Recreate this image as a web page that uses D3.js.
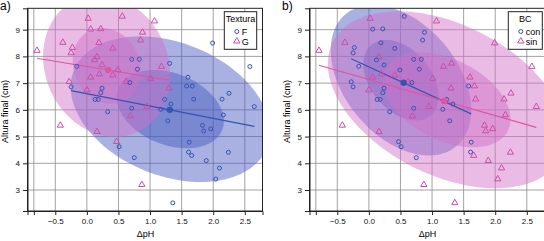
<!DOCTYPE html>
<html>
<head>
<meta charset="utf-8">
<script src="https://cdn.jsdelivr.net/npm/d3@7"></script>
<style>
body { margin: 0; background: #fff; }
text { font-family: "Liberation Sans", Arial, sans-serif; }
</style>
</head>
<body>
<svg id="chart" width="544" height="241"></svg>
<script>
// valores (ΔpH, altura final, textura, BC)
var deltaPH = [-0.79, 0.02, 0.56, 0.06, 0.22, -0.38, -0.23, -0.25, 0.19, 0.41,
               0.16, -0.16, -0.28, -0.25, 0.12, 0.24, 0.41, 0.20, 0.06, 0.00,
               0.62, 0.24, 0.22, 0.13, 0.18, 0.33, 0.49, 0.71, 0.83, 0.80,
               0.68, -0.42, 0.16, 0.47, 0.51, 0.75, 0.87, 1.36, 1.07, 0.88,
               0.85, 1.18, 1.99, 2.58, 1.31, 1.60, 1.58, 1.67, 2.25, 2.14,
               1.69, 1.23, 1.33, 2.65, 2.16, 1.17, 1.28, 1.83, 1.85, 1.96,
               1.62, 1.61, 1.66, 2.24, 1.89, 2.10, 2.04, 0.95, 0.69, 1.01,
               1.30, 0.71];
var alturaFinal = [8.22, 9.42, 9.50, 9.02, 9.03, 8.52, 8.33, 8.13, 8.51, 8.30,
                   7.98, 7.63, 7.05, 6.86, 7.87, 7.68, 7.30, 7.34, 7.22, 6.74,
                   7.05, 6.81, 6.64, 6.39, 6.39, 5.93, 7.49, 7.89, 7.89, 7.52,
                   7.02, 5.42, 5.18, 4.81, 4.62, 4.21, 3.20, 2.52, 9.32, 8.90,
                   8.61, 7.62, 8.50, 7.62, 7.74, 7.22, 6.89, 6.89, 6.62, 6.40,
                   6.40, 6.39, 6.22, 6.12, 5.81, 6.02, 5.59, 5.42, 5.21, 5.29,
                   4.79, 4.42, 4.29, 4.41, 4.10, 3.82, 3.41, 6.12, 5.77, 7.17,
                   6.81, 6.06];
var textura = ["G","G","G","G","G","G","G","G","G","G",
               "G","F","G","F","G","G","G","G","G","G",
               "G","F","F","F","F","F","G","F","F","F",
               "F","G","G","G","F","F","G","F","G","G",
               "G","G","F","F","F","F","F","F","F","F",
               "F","F","F","F","F","F","F","F","F","F",
               "F","F","F","F","F","F","F","G","G","G",
               "G","F"];
var bc = ["sin","sin","con","con","con","sin","con","con","con","con",
          "sin","con","con","con","con","con","sin","sin","sin","sin",
          "sin","con","con","con","con","con","con","con","con","con",
          "con","sin","sin","con","con","con","sin","sin","sin","con",
          "con","sin","sin","sin","sin","sin","con","sin","sin","sin",
          "sin","con","con","sin","sin","con","con","sin","sin","sin",
          "con","con","sin","sin","sin","sin","sin","sin","sin","sin",
          "sin","con"];

var xTicks = [-0.84, -0.5, 0, 0.5, 1, 1.5, 2, 2.5];
var xTickLabels = ["", "\u22120.5", "0.0", "0.5", "1.0", "1.5", "2.0", "2.5"];
var yTicks = [3, 4, 5, 6, 7, 8, 9];
var yTickLabels = ["3", "4", "5", "6", "7", "8", "9"];

var texturaLevels = ["F", "G"];
var bcLevels = ["con", "sin"];
var ellipseLevels = [0.9, 0.5];

var param = {
	panelLeft : [27.5, 309.5],
	plotWidth : 235,
	top : 8.3,
	bottom : 211,
	xDomain : [-0.94, 2.78],
	yDomain : [2.215, 9.8],
	nu : 5
};

var pointColor = ["#3653b0", "#cc4ea6"];
var lineColor = ["#3653b0", "#e0559f"];
var fillColor = ["#4a5bc0", "#d070c8"];

var data = deltaPH.map(function(v, i) {
	return {x : v, y : alturaFinal[i], textura : textura[i], bc : bc[i]};
});

var panels = [
	{tag : "a)", key : "textura", levels : texturaLevels, title : "Textura", legendX : 196.8, legendW : 32.4},
	{tag : "b)", key : "bc", levels : bcLevels, title : "BC", legendX : 198.8, legendW : 34}
];

var svg = d3.select("#chart");

panels.forEach(function(p, idx) { drawPanel(p, idx); });

function groupStats(pts) {
	var mx = d3.mean(pts, function(d) { return d.x; });
	var my = d3.mean(pts, function(d) { return d.y; });
	var sxx = 0, sxy = 0;
	pts.forEach(function(d) {
		sxx += (d.x - mx) * (d.x - mx);
		sxy += (d.x - mx) * (d.y - my);
	});
	return {mx : mx, my : my, slope : sxy / sxx, n : pts.length,
	        xmin : d3.min(pts, function(d) { return d.x; }),
	        xmax : d3.max(pts, function(d) { return d.x; }),
	        robust : covTrob(pts, param.nu)};
}

// covarianza robusta (distribucion t), como cov.trob
function covTrob(pts, nu) {
	var n = pts.length;
	var loc = [d3.mean(pts, function(d) { return d.x; }), d3.mean(pts, function(d) { return d.y; })];
	var w = pts.map(function() { return 1; });
	var X;
	for (var iter = 0; iter < 25; iter++) {
		var w0 = w.slice();
		X = pts.map(function(d) { return [d.x - loc[0], d.y - loc[1]]; });
		var sw = d3.sum(w);
		var a = 0, b = 0, c = 0;
		X.forEach(function(v, i) {
			a += w[i] / sw * v[0] * v[0];
			b += w[i] / sw * v[0] * v[1];
			c += w[i] / sw * v[1] * v[1];
		});
		var det = a * c - b * b;
		w = X.map(function(v) {
			var q = (c * v[0] * v[0] - 2 * b * v[0] * v[1] + a * v[1] * v[1]) / det;
			return (nu + 2) / (nu + q);
		});
		var sw2 = d3.sum(w);
		loc = [d3.sum(pts, function(d, i) { return w[i] * d.x; }) / sw2,
		       d3.sum(pts, function(d, i) { return w[i] * d.y; }) / sw2];
		var diff = d3.max(w, function(v, i) { return Math.abs(v - w0[i]); });
		if (diff < 0.01) break;
	}
	var sxx = 0, sxy = 0, syy = 0;
	X.forEach(function(v, i) {
		sxx += w[i] * v[0] * v[0];
		sxy += w[i] * v[0] * v[1];
		syy += w[i] * v[1] * v[1];
	});
	return {cx : loc[0], cy : loc[1], sxx : sxx / n, sxy : sxy / n, syy : syy / n};
}

function ellipsePoints(s, level) {
	var d = s.n - 1;
	var qf = d / 2 * (Math.pow(1 - level, -2 / d) - 1);
	var r = Math.sqrt(2 * qf);
	var e = s.robust;
	var a = Math.sqrt(e.sxx);
	var b = e.sxy / a;
	var c = Math.sqrt(e.syy - b * b);
	return d3.range(0, 121).map(function(k) {
		var t = 2 * Math.PI * k / 120;
		return [e.cx + r * a * Math.cos(t), e.cy + r * (b * Math.cos(t) + c * Math.sin(t))];
	});
}

function drawPanel(p, idx) {
	var left = param.panelLeft[idx];
	var x = d3.scaleLinear().domain(param.xDomain).range([left, left + param.plotWidth]);
	var y = d3.scaleLinear().domain(param.yDomain).range([param.bottom, param.top]);
	var g = svg.append("g");

	g.append("clipPath")
	 .attr("id", "clip" + idx)
	 .append("rect")
	 .attr("x", left)
	 .attr("y", param.top)
	 .attr("width", param.plotWidth)
	 .attr("height", param.bottom - param.top);

	// rejilla
	g.selectAll(".vgrid")
	 .data(xTicks)
	 .enter()
	 .append("line")
	 .attr("x1", function(d) { return x(d); })
	 .attr("x2", function(d) { return x(d); })
	 .attr("y1", param.top)
	 .attr("y2", param.bottom)
	 .style("stroke", "#8a8a8a")
	 .style("stroke-width", 0.8);
	g.selectAll(".hgrid")
	 .data(yTicks)
	 .enter()
	 .append("line")
	 .attr("x1", left)
	 .attr("x2", left + param.plotWidth)
	 .attr("y1", function(d) { return y(d); })
	 .attr("y2", function(d) { return y(d); })
	 .style("stroke", "#8a8a8a")
	 .style("stroke-width", 0.8);

	var stats = p.levels.map(function(level) {
		return groupStats(data.filter(function(d) { return d[p.key] === level; }));
	});

	var line = d3.line().x(function(d) { return x(d[0]); }).y(function(d) { return y(d[1]); });
	var plot = g.append("g").attr("clip-path", "url(#clip" + idx + ")");

	// elipses
	stats.forEach(function(s, k) {
		ellipseLevels.forEach(function(level) {
			plot.append("path")
			    .attr("d", line(ellipsePoints(s, level)) + "Z")
			    .style("fill", fillColor[k])
			    .style("fill-opacity", 0.48)
			    .style("stroke", "none");
		});
	});

	// rectas de regresion
	stats.forEach(function(s, k) {
		plot.append("path")
		    .attr("d", line([[s.xmin, s.my + s.slope * (s.xmin - s.mx)], [s.xmax, s.my + s.slope * (s.xmax - s.mx)]]))
		    .style("stroke", lineColor[k])
		    .style("stroke-width", 1.2)
		    .style("fill", "none");
	});

	// puntos
	var tri = d3.symbol().type(d3.symbolTriangle).size(17);
	data.forEach(function(d) {
		var k = p.levels.indexOf(d[p.key]);
		if (k === 0) {
			plot.append("circle")
			    .attr("cx", x(d.x))
			    .attr("cy", y(d.y))
			    .attr("r", 2)
			    .style("fill", "none")
			    .style("stroke", pointColor[0])
			    .style("stroke-width", 1);
		} else {
			plot.append("path")
			    .attr("d", tri())
			    .attr("transform", "translate(" + x(d.x) + "," + y(d.y) + ")")
			    .style("fill", "none")
			    .style("stroke", pointColor[1])
			    .style("stroke-width", 1);
		}
	});

	// medias
	stats.forEach(function(s, k) {
		plot.append("circle")
		    .attr("cx", x(s.mx))
		    .attr("cy", y(s.my))
		    .attr("r", 3.2)
		    .style("fill", lineColor[k]);
	});

	// marco
	g.append("rect")
	 .attr("x", left)
	 .attr("y", param.top)
	 .attr("width", param.plotWidth)
	 .attr("height", param.bottom - param.top)
	 .style("fill", "none")
	 .style("stroke", "#222")
	 .style("stroke-width", 1);

	// ejes
	var xAxis = d3.axisBottom(x)
	              .tickValues(xTicks)
	              .tickSize(4)
	              .tickPadding(3)
	              .tickFormat(function(d, i) { return xTickLabels[i]; });
	var yAxis = d3.axisLeft(y)
	              .tickValues(yTicks)
	              .tickSize(4.5)
	              .tickPadding(3)
	              .tickFormat(function(d, i) { return yTickLabels[i]; });
	var gx = g.append("g").attr("transform", "translate(0," + param.bottom + ")").call(xAxis);
	var gy = g.append("g").attr("transform", "translate(" + left + ",0)").call(yAxis);
	[gx, gy].forEach(function(ax) {
		ax.select(".domain").style("stroke", "#222");
		ax.selectAll(".tick line").style("stroke", "#222");
		ax.selectAll("text")
		  .style("font-size", "8px")
		  .style("font-family", "'Liberation Sans', Arial, sans-serif")
		  .style("fill", "#111");
	});

	g.append("text")
	 .attr("x", left + 118)
	 .attr("y", 237)
	 .attr("text-anchor", "middle")
	 .style("font-size", "9px")
	 .text("\u0394pH");

	g.append("text")
	 .attr("transform", "translate(" + (left - 19.5) + "," + 111.5 + ") rotate(-90)")
	 .attr("text-anchor", "middle")
	 .style("font-size", "9px")
	 .text("Altura final (cm)");

	g.append("text")
	 .attr("x", left - 27.5)
	 .attr("y", 10)
	 .style("font-size", "12px")
	 .text(p.tag);

	// leyenda
	var lx = left + p.legendX;
	var legend = g.append("g");
	legend.append("rect")
	      .attr("x", lx)
	      .attr("y", 11.7)
	      .attr("width", p.legendW)
	      .attr("height", 37.6)
	      .style("fill", "#fff")
	      .style("stroke", "#222")
	      .style("stroke-width", 1);
	legend.append("text")
	      .attr("x", lx + p.legendW / 2)
	      .attr("y", 21.5)
	      .attr("text-anchor", "middle")
	      .style("font-size", "9px")
	      .text(p.title);
	p.levels.forEach(function(level, k) {
		var cy = 31.5 + k * 9.7;
		if (k === 0) {
			legend.append("circle")
			      .attr("cx", lx + 12.5)
			      .attr("cy", cy)
			      .attr("r", 2)
			      .style("fill", "none")
			      .style("stroke", pointColor[0]);
		} else {
			legend.append("path")
			      .attr("d", tri())
			      .attr("transform", "translate(" + (lx + 12.5) + "," + cy + ")")
			      .style("fill", "none")
			      .style("stroke", pointColor[1]);
		}
		legend.append("text")
		      .attr("x", lx + 17.5)
		      .attr("y", cy + 3.3)
		      .style("font-size", "9px")
		      .text(level);
	});
}
</script>
</body>
</html>
